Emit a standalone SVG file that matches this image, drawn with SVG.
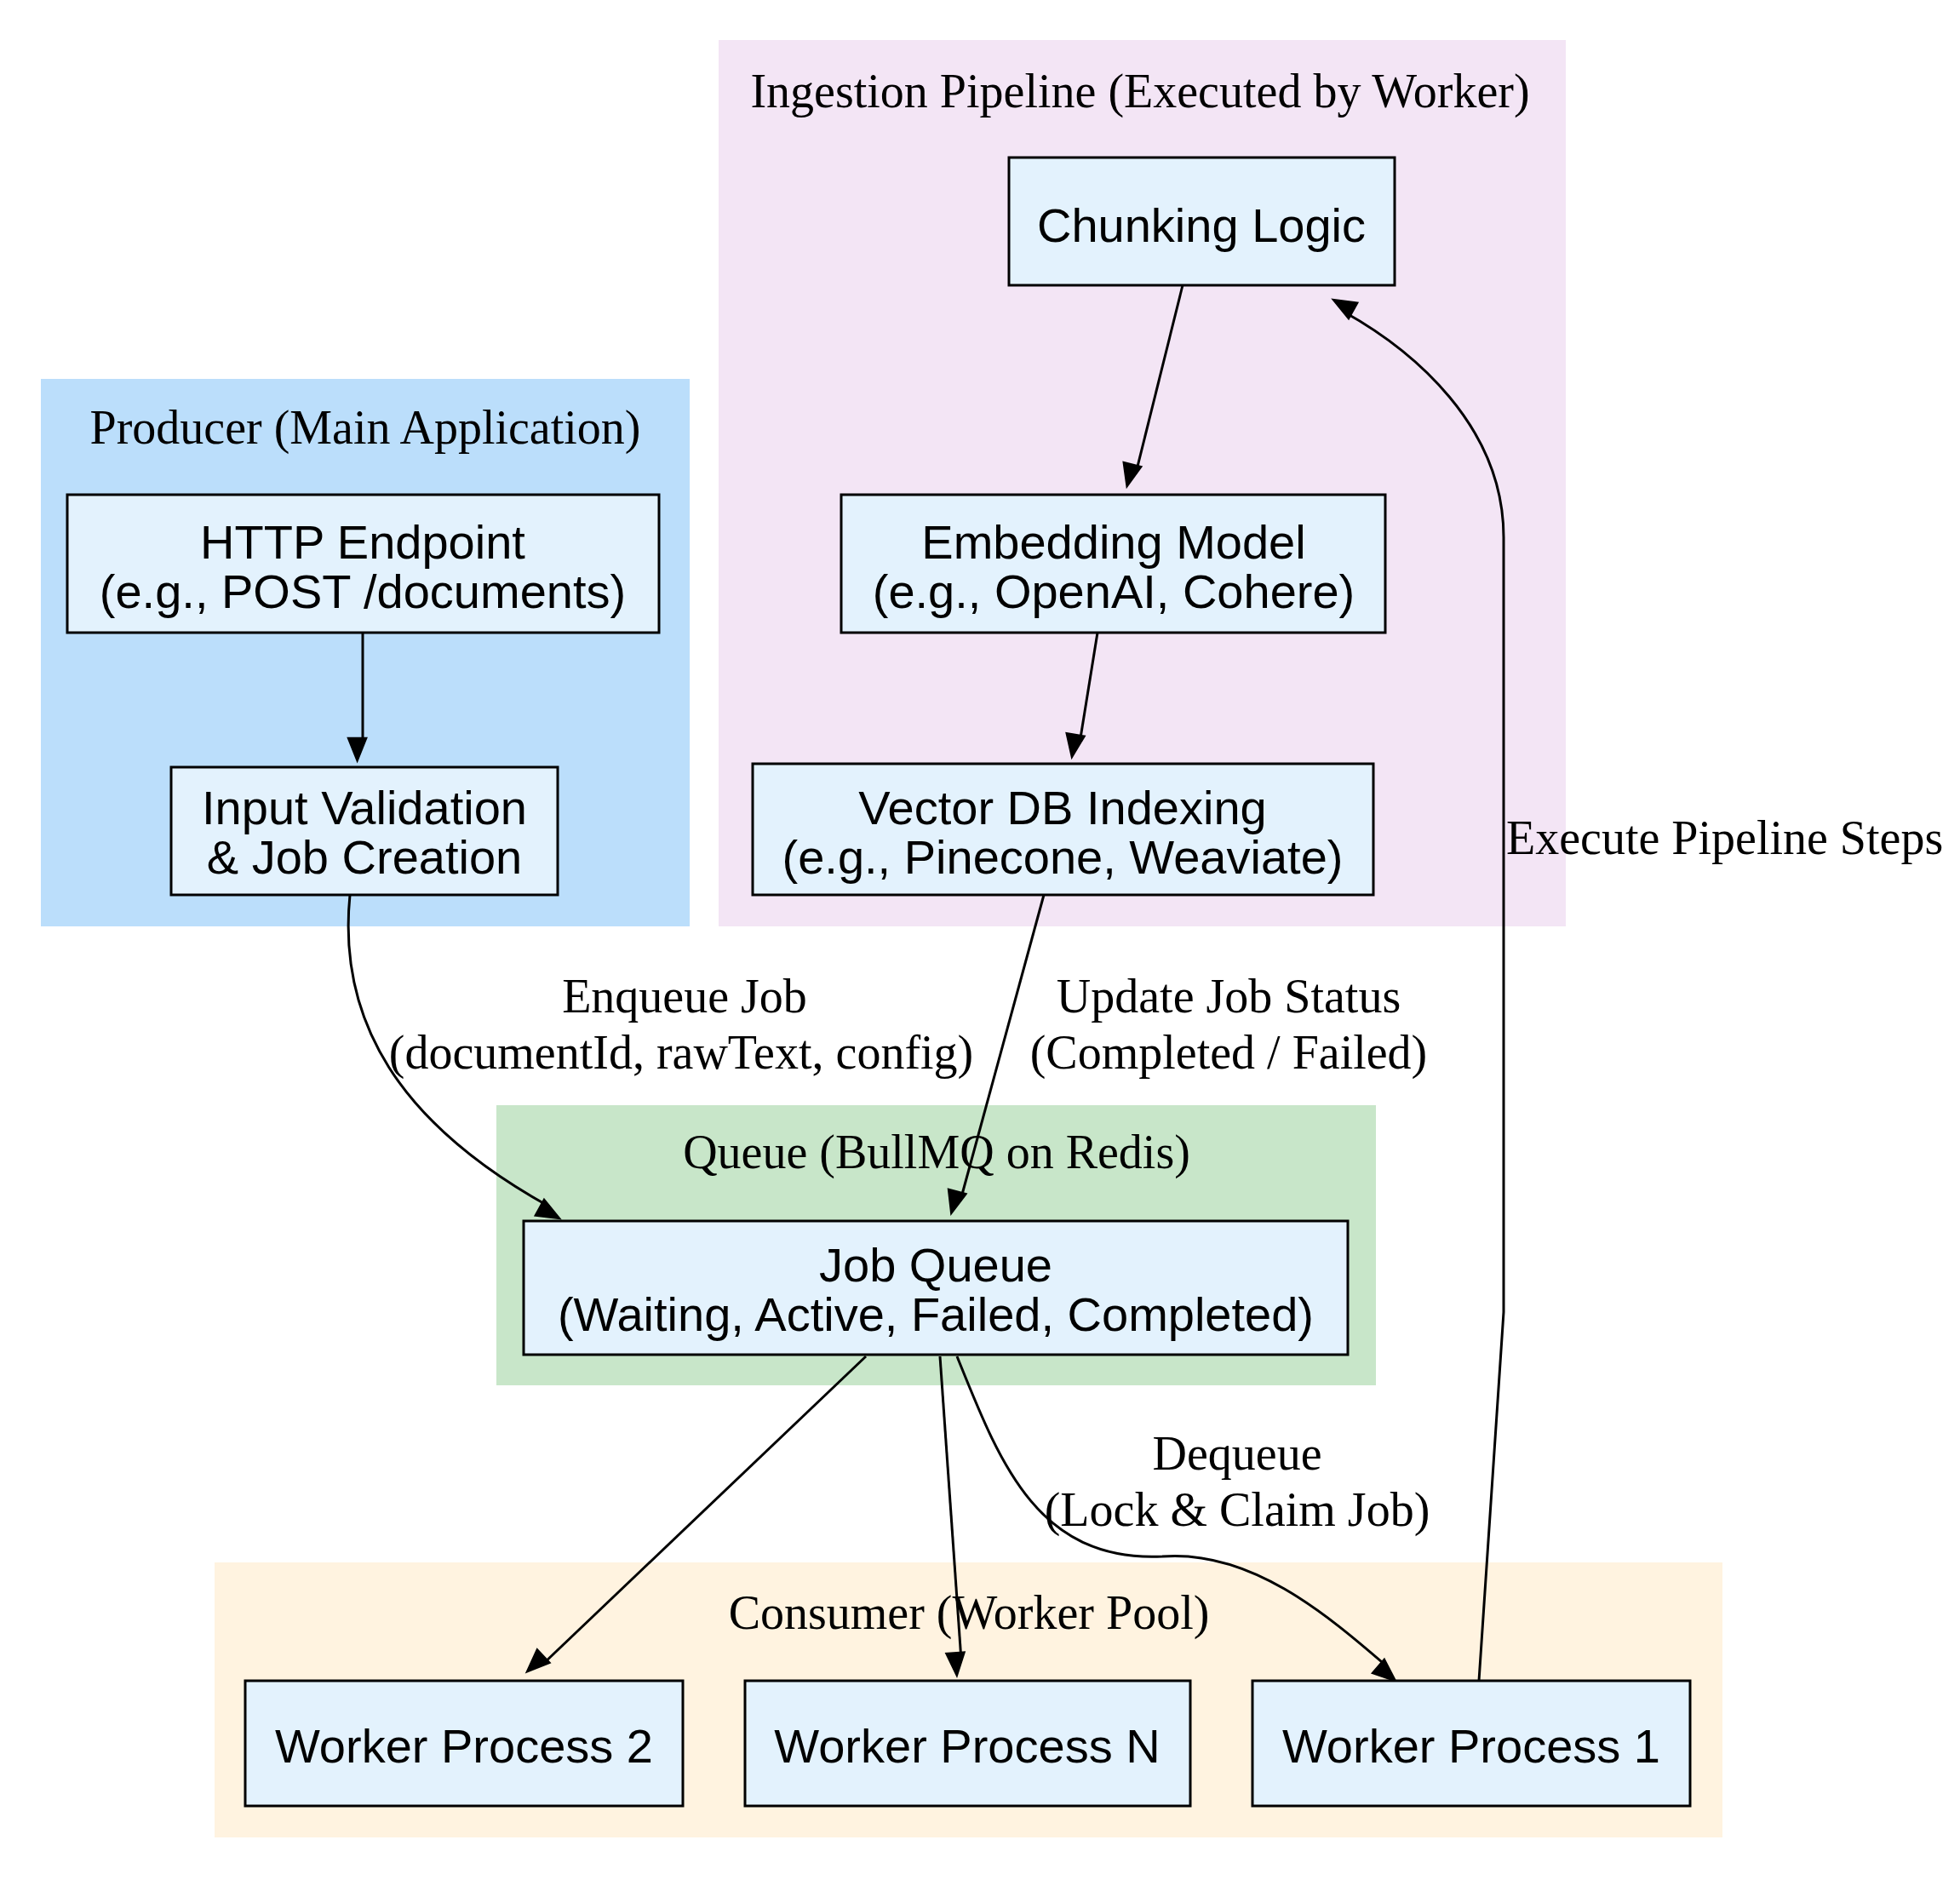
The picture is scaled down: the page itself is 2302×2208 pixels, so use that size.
<svg xmlns="http://www.w3.org/2000/svg" width="2302" height="2208" viewBox="0 0 2302 2208">
<style>
.n{fill:#e3f2fd;stroke:#000;stroke-width:3}
.t{font-family:"Liberation Sans",Arial,sans-serif;font-size:56px;text-anchor:middle;dominant-baseline:central}
.c{font-family:"Liberation Serif","Times New Roman",serif;font-size:56px;text-anchor:middle;dominant-baseline:central}
.e{fill:none;stroke:#000;stroke-width:3;marker-end:url(#a)}
</style>
<defs><marker id="a" markerWidth="10" markerHeight="8" refX="9" refY="4" orient="auto" markerUnits="userSpaceOnUse" viewBox="0 0 10 8" style="overflow:visible"><path d="M0,0 L10,4 L0,8 Z" fill="#000" stroke="#000" transform="scale(2.6)" /></marker></defs>
<rect width="2302" height="2208" fill="#fff"/>
<g id="clusters">
<rect x="48" y="445" width="762" height="643" fill="#bbdefb"/><text class="c" x="429" y="502">Producer (Main Application)</text>
<rect x="844" y="47" width="995" height="1041" fill="#f3e5f5"/><text class="c" x="1339" y="107">Ingestion Pipeline (Executed by Worker)</text>
<rect x="583" y="1298" width="1033" height="329" fill="#c8e6c9"/><text class="c" x="1100" y="1353">Queue (BullMQ on Redis)</text>
<rect x="252" y="1835" width="1771" height="323" fill="#fff3e0"/><text class="c" x="1138" y="1894">Consumer (Worker Pool)</text>
</g>
<g id="edges">
<path class="e" d="M426,743 L426,876"/>
<path class="e" d="M411,1051 C396,1200 470,1320 645,1417"/>
<path class="e" d="M1389,335 L1334,556"/>
<path class="e" d="M1289,743 L1268,873"/>
<path class="e" d="M1226,1051 L1128,1410"/>
<path class="e" d="M1017,1593 L636,1956"/>
<path class="e" d="M1104,1593 L1129,1950"/>
<path class="e" d="M1124,1593 C1174,1717 1218,1835 1365,1828 C1468,1820 1556,1894 1630,1958"/>
<path class="e" d="M1737,1974 L1766,1541 L1766,631 C1766,500 1659,411 1578,366"/>
<text class="c" x="804" y="1170">Enqueue Job</text><text class="c" x="800" y="1236">(documentId, rawText, config)</text>
<text class="c" x="1443" y="1170">Update Job Status</text><text class="c" x="1443" y="1236">(Completed / Failed)</text>
<text class="c" x="1453" y="1707">Dequeue</text><text class="c" x="1453" y="1773">(Lock &amp; Claim Job)</text>
<text class="c" x="1769" y="984" style="text-anchor:start">Execute Pipeline Steps</text>
</g>
<g id="http"><rect class="n" x="79" y="581" width="695" height="162"/><text class="t" x="426" y="636">HTTP Endpoint</text><text class="t" x="426" y="694">(e.g., POST /documents)</text></g>
<g id="validate"><rect class="n" x="201" y="901" width="454" height="150"/><text class="t" x="428" y="948">Input Validation</text><text class="t" x="428" y="1006">&amp; Job Creation</text></g>
<g id="chunk"><rect class="n" x="1185" y="185" width="453" height="150"/><text class="t" x="1411" y="264">Chunking Logic</text></g>
<g id="embed"><rect class="n" x="988" y="581" width="639" height="162"/><text class="t" x="1308" y="636">Embedding Model</text><text class="t" x="1308" y="694">(e.g., OpenAI, Cohere)</text></g>
<g id="vector"><rect class="n" x="884" y="897" width="729" height="154"/><text class="t" x="1248" y="948">Vector DB Indexing</text><text class="t" x="1248" y="1006">(e.g., Pinecone, Weaviate)</text></g>
<g id="queue"><rect class="n" x="615" y="1434" width="968" height="157"/><text class="t" x="1099" y="1485">Job Queue</text><text class="t" x="1099" y="1543">(Waiting, Active, Failed, Completed)</text></g>
<g id="w2"><rect class="n" x="288" y="1974" width="514" height="147"/><text class="t" x="545" y="2050">Worker Process 2</text></g>
<g id="wn"><rect class="n" x="875" y="1974" width="523" height="147"/><text class="t" x="1136" y="2050">Worker Process N</text></g>
<g id="w1"><rect class="n" x="1471" y="1974" width="514" height="147"/><text class="t" x="1728" y="2050">Worker Process 1</text></g>
</svg>
